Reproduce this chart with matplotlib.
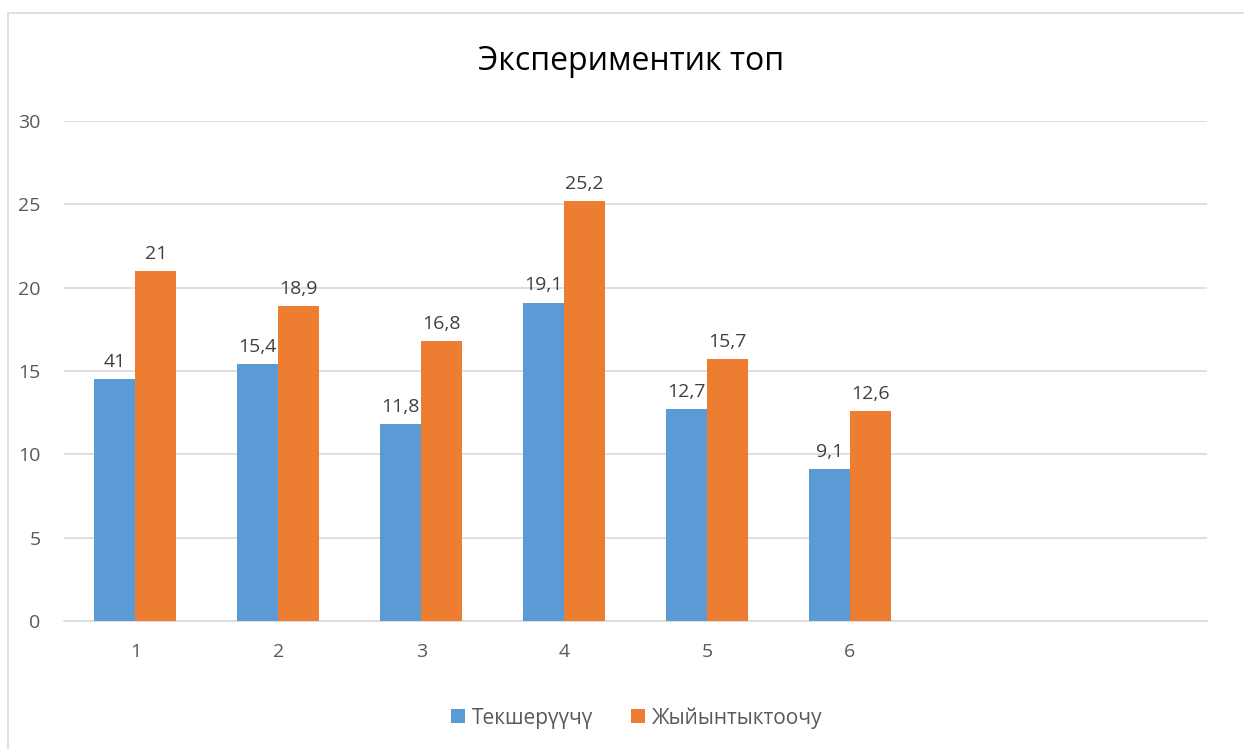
import numpy as np
import matplotlib.pyplot as plt
from matplotlib.patches import Rectangle

plt.rcParams['font.family'] = ['Open Sans', 'DejaVu Sans']

categories = ['1', '2', '3', '4', '5', '6']
tekshe = [14.5, 15.4, 11.8, 19.1, 12.7, 9.1]
jyiyn = [21, 18.9, 16.8, 25.2, 15.7, 12.6]
# labels as printed on the original chart (first one says 41)
tekshe_labels = ['41', '15,4', '11,8', '19,1', '12,7', '9,1']
jyiyn_labels = ['21', '18,9', '16,8', '25,2', '15,7', '12,6']
n_slots = 8  # axis has two empty category slots on the right

blue = '#5b9bd5'
orange = '#ed7d31'

fig = plt.figure(figsize=(12.44, 7.49), dpi=100)
fig.patches.append(Rectangle((8 / 1244, -0.1), 1.2, 1 - 13 / 749 + 0.1,
                             transform=fig.transFigure, fill=False,
                             edgecolor='#d9d9d9', linewidth=1.2))

ax = fig.add_axes([64 / 1244, 1 - 621 / 749, (1207 - 64) / 1244, 500 / 749])

x = np.arange(len(categories))
w = 0.287
b1 = ax.bar(x - w / 2, tekshe, w, color=blue, label='Текшерүүчү', zorder=3)
b2 = ax.bar(x + w / 2, jyiyn, w, color=orange, label='Жыйынтыктоочу', zorder=3)

for bars, labs in [(b1, tekshe_labels), (b2, jyiyn_labels)]:
    for r, lab in zip(bars, labs):
        ax.annotate(lab, (r.get_x() + r.get_width() / 2, r.get_height()),
                    xytext=(0, 6), textcoords='offset points',
                    ha='center', va='bottom', fontsize=14, color='#404040')

ax.set_xlim(-0.5, n_slots - 0.5)
ax.set_ylim(0, 30)
ax.set_yticks(np.arange(0, 31, 5))
ax.set_xticks(x)
ax.set_xticklabels(categories)
ax.tick_params(axis='both', length=0, labelsize=14, labelcolor='#595959')
ax.tick_params(axis='y', pad=17)
ax.tick_params(axis='x', pad=16)
ax.grid(axis='y', color='#d9d9d9', linewidth=1.2, zorder=0)
for s in ['top', 'right', 'left']:
    ax.spines[s].set_visible(False)
ax.spines['bottom'].set_color('#d9d9d9')
ax.spines['bottom'].set_linewidth(1.2)

fig.text(0.507, 1 - 61 / 749, 'Экспериментик топ', ha='center', va='center',
         fontsize=23, color='#000000')

fig.legend(loc='center', bbox_to_anchor=(0.512, 1 - 718 / 749), ncol=2,
           frameon=False, fontsize=15, labelcolor='#595959',
           handlelength=0.65, handleheight=0.65, handletextpad=0.35,
           columnspacing=1.8)

fig.savefig('out.png', dpi=100)
